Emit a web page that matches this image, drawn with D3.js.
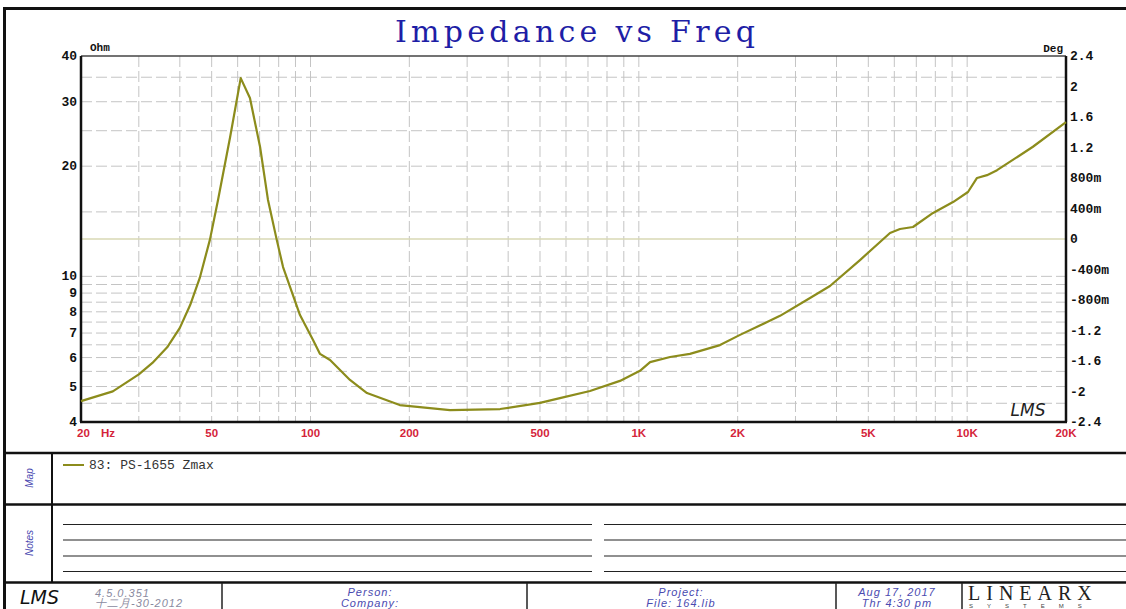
<!DOCTYPE html>
<html>
<head>
<meta charset="utf-8">
<script src="https://d3js.org/d3.v7.min.js"></script>
<style>
  body { margin: 0; background: #fff; }
  svg { display: block; }
  .grid line { stroke: #c4c4c4; stroke-width: 1; stroke-dasharray: 11 4; }
  .lab { font-family: "Liberation Mono", monospace; font-weight: bold; font-size: 13px; fill: #111; }
  .xlab { font-family: "Liberation Sans", Arial, sans-serif; font-weight: bold; font-size: 11.5px; fill: #d4243a; }
  .foot { font-family: "Liberation Sans", Arial, sans-serif; font-style: italic; font-size: 11px; fill: #4a4ab0; letter-spacing: 1px; }
</style>
</head>
<body>
<div id="chart"></div>
<script>
// page size
var w = 1126, h = 609;
// plot area
var margin = {top: 56, right: 60, bottom: 187, left: 81};
var plotRight = w - margin.right, plotBottom = h - margin.bottom;

// impedance curve
var freqHz = [20, 25, 30, 33, 36.6, 40, 43, 46, 49.4, 52.3, 56.9, 61.3, 65.4, 70.2, 74.2, 78.9, 82.5, 92.9,
  101.8, 106.9, 114.7, 131.9, 148.6, 187, 266, 378, 500, 575, 710, 876, 1008, 1082, 1245, 1431, 1767, 2033,
  2692, 3322, 3821, 4716, 5821, 6243, 6840, 7872, 9058, 10058, 10716, 11494, 12332, 15860, 20000];
var impedanceOhm = [4.56, 4.85, 5.4, 5.8, 6.4, 7.23, 8.35, 9.9, 12.6, 16.2, 24.0, 34.8, 30.7, 22.6, 16.2, 12.6, 10.6, 7.84,
  6.7, 6.14, 5.91, 5.21, 4.8, 4.45, 4.31, 4.34, 4.51, 4.65, 4.86, 5.18, 5.52, 5.83, 6.02, 6.14, 6.49, 6.92,
  7.8, 8.73, 9.41, 11.08, 13.14, 13.47, 13.64, 14.9, 15.96, 17.0, 18.57, 18.9, 19.5, 22.6, 26.4];

// axes
var xTickValues = [20, 50, 100, 200, 500, 1000, 2000, 5000, 10000, 20000];
var xTickLabels = ["20 Hz", "50", "100", "200", "500", "1K", "2K", "5K", "10K", "20K"];
var xGridValues = [30, 40, 50, 60, 70, 80, 90, 100, 200, 300, 400, 500, 600, 700, 800, 900,
  1000, 2000, 3000, 4000, 5000, 6000, 7000, 8000, 9000, 10000];
var yLeftTicks = [4, 5, 6, 7, 8, 9, 10, 20, 30, 40];
var yLeftGrid = [4.5, 5, 5.5, 6, 6.5, 7, 7.5, 8, 8.5, 9, 9.5, 10, 15, 20, 25, 30, 35];
var yRightTicks = [2.4, 2, 1.6, 1.2, 0.8, 0.4, 0, -0.4, -0.8, -1.2, -1.6, -2, -2.4];
var yRightLabels = ["2.4", "2", "1.6", "1.2", "800m", "400m", "0", "-400m", "-800m", "-1.2", "-1.6", "-2", "-2.4"];
var legendLabel = "83: PS-1655 Zmax";

var lineColor = "#8c8c1c";

var xScale = d3.scaleLog().domain([20, 20000]).range([margin.left, plotRight]);
var yScale = d3.scaleLog().domain([4, 40]).range([plotBottom, margin.top]);
var yPhase = d3.scaleLinear().domain([-2.4, 2.4]).range([plotBottom, margin.top]);

var svg = d3.select("#chart").append("svg")
  .attr("width", w).attr("height", h);

// outer frame
svg.append("line").attr("x1", 3).attr("x2", w).attr("y1", 8.5).attr("y2", 8.5)
  .attr("stroke", "#111").attr("stroke-width", 3);
svg.append("line").attr("x1", 4.5).attr("x2", 4.5).attr("y1", 7).attr("y2", h)
  .attr("stroke", "#111").attr("stroke-width", 3);
[453, 504.5, 582.5].forEach(function(y) {
  svg.append("line").attr("x1", 3).attr("x2", w).attr("y1", y).attr("y2", y)
    .attr("stroke", "#111").attr("stroke-width", 2.5);
});
svg.append("line").attr("x1", 52).attr("x2", 52).attr("y1", 453).attr("y2", 582)
  .attr("stroke", "#111").attr("stroke-width", 2);

// title
svg.append("text")
  .attr("x", 395).attr("y", 42)
  .attr("textLength", 360).attr("lengthAdjust", "spacing")
  .style("font-family", "DejaVu Serif, serif")
  .style("font-size", "30px")
  .style("fill", "#1e1ea6")
  .text("Impedance vs Freq");

// grid
var grid = svg.append("g").attr("class", "grid");
grid.selectAll("line.v").data(xGridValues).enter().append("line")
  .attr("class", "v")
  .attr("x1", function(d) { return xScale(d); }).attr("x2", function(d) { return xScale(d); })
  .attr("y1", margin.top).attr("y2", plotBottom);
grid.selectAll("line.h").data(yLeftGrid).enter().append("line")
  .attr("class", "h")
  .attr("x1", margin.left).attr("x2", plotRight)
  .attr("y1", function(d) { return yScale(d); }).attr("y2", function(d) { return yScale(d); });

// 0 deg phase line
svg.append("line")
  .attr("x1", margin.left).attr("x2", plotRight)
  .attr("y1", yPhase(0)).attr("y2", yPhase(0))
  .attr("stroke", "#d8d8b4").attr("stroke-width", 1.5);

// plot box
svg.append("line").attr("x1", margin.left).attr("x2", plotRight).attr("y1", margin.top).attr("y2", margin.top)
  .attr("stroke", "#444").attr("stroke-width", 1.5);
svg.append("line").attr("x1", margin.left - 1).attr("x2", plotRight + 1).attr("y1", plotBottom).attr("y2", plotBottom)
  .attr("stroke", "#111").attr("stroke-width", 2.5);
svg.append("line").attr("x1", margin.left).attr("x2", margin.left).attr("y1", margin.top).attr("y2", plotBottom)
  .attr("stroke", "#111").attr("stroke-width", 2.5);
svg.append("line").attr("x1", plotRight).attr("x2", plotRight).attr("y1", margin.top).attr("y2", plotBottom)
  .attr("stroke", "#111").attr("stroke-width", 2.5);

// impedance line
var line = d3.line()
  .x(function(d, i) { return xScale(freqHz[i]); })
  .y(function(d) { return yScale(d); });
svg.append("path")
  .datum(impedanceOhm)
  .attr("d", line)
  .attr("fill", "none")
  .attr("stroke", lineColor)
  .attr("stroke-width", 2.2)
  .attr("stroke-linejoin", "round");

// left axis labels
svg.selectAll("text.yl").data(yLeftTicks).enter().append("text")
  .attr("class", "lab")
  .attr("x", margin.left - 4)
  .attr("y", function(d) { return yScale(d) + 4; })
  .attr("text-anchor", "end")
  .text(function(d) { return d; });
svg.append("text").attr("class", "lab").style("font-size", "11px")
  .attr("x", 90).attr("y", 51).text("Ohm");

// right axis labels
svg.selectAll("text.yr").data(yRightTicks).enter().append("text")
  .attr("class", "lab")
  .attr("x", plotRight + 4)
  .attr("y", function(d) { return yPhase(d) + 4; })
  .text(function(d, i) { return yRightLabels[i]; });
svg.append("text").attr("class", "lab").style("font-size", "11px")
  .attr("x", plotRight - 3).attr("y", 52).attr("text-anchor", "end").text("Deg");

// x labels
svg.selectAll("text.xl").data(xTickValues).enter().append("text")
  .attr("class", "xlab")
  .attr("x", function(d, i) { return i === 0 ? xScale(d) - 4 : xScale(d); })
  .attr("y", 437)
  .attr("text-anchor", function(d, i) { return i === 0 ? "start" : "middle"; })
  .style("word-spacing", "8px")
  .text(function(d, i) { return xTickLabels[i]; });

// LMS mark in the plot
svg.append("text")
  .attr("x", 1028).attr("y", 416).attr("text-anchor", "middle")
  .style("font-family", "DejaVu Sans, sans-serif").style("font-style", "italic")
  .style("font-size", "17px").style("fill", "#222")
  .text("LMS");

// side labels
[["Map", 478], ["Notes", 543]].forEach(function(s) {
  svg.append("text")
    .attr("transform", "translate(33," + s[1] + ") rotate(-90)")
    .attr("text-anchor", "middle")
    .style("font-family", "Liberation Sans Narrow, Liberation Sans, sans-serif")
    .style("font-style", "italic").style("font-size", "10px").style("fill", "#4a4ab0")
    .text(s[0]);
});

// legend
svg.append("line").attr("x1", 63).attr("x2", 84).attr("y1", 465).attr("y2", 465)
  .attr("stroke", lineColor).attr("stroke-width", 2);
svg.append("text")
  .attr("x", 89).attr("y", 469)
  .style("font-family", "Liberation Mono, monospace").style("font-size", "13px").style("fill", "#333")
  .text(legendLabel);

// notes lines
[524.5, 540, 556, 571.5].forEach(function(y) {
  svg.append("line").attr("x1", 63).attr("x2", 592).attr("y1", y).attr("y2", y)
    .attr("stroke", "#222").attr("stroke-width", 1.2);
  svg.append("line").attr("x1", 604).attr("x2", w).attr("y1", y).attr("y2", y)
    .attr("stroke", "#222").attr("stroke-width", 1.2);
});

// footer
[222, 527, 836, 962].forEach(function(x) {
  svg.append("line").attr("x1", x).attr("x2", x).attr("y1", 583).attr("y2", h)
    .attr("stroke", "#222").attr("stroke-width", 1.5);
});
svg.append("text")
  .attr("x", 20).attr("y", 604)
  .style("font-family", "DejaVu Sans, sans-serif").style("font-style", "italic")
  .style("font-size", "19px").style("fill", "#111")
  .text("LMS");
svg.append("text").attr("class", "foot").style("fill", "#8a8aa0")
  .attr("x", 95).attr("y", 597).text("4.5.0.351");
svg.append("text").attr("class", "foot").style("fill", "#8a8aa0")
  .attr("x", 95).attr("y", 607).text("十二月-30-2012");
var footText = [[370, "Person:", "Company:"], [681, "Project:", "File: 164.lib"], [897, "Aug 17, 2017", "Thr  4:30 pm"]];
footText.forEach(function(f) {
  svg.append("text").attr("class", "foot").attr("x", f[0]).attr("y", 596).attr("text-anchor", "middle").text(f[1]);
  svg.append("text").attr("class", "foot").attr("x", f[0]).attr("y", 607).attr("text-anchor", "middle").text(f[2]);
});
svg.append("text")
  .attr("x", 968).attr("y", 600)
  .style("font-family", "Liberation Serif, serif").style("font-size", "20px")
  .style("letter-spacing", "6px").style("fill", "#222")
  .text("LINEARX");
svg.append("text")
  .attr("x", 969).attr("y", 608)
  .style("font-family", "Liberation Sans, sans-serif").style("font-size", "6px")
  .style("letter-spacing", "14px").style("fill", "#444")
  .text("SYSTEMS");
</script>
</body>
</html>
